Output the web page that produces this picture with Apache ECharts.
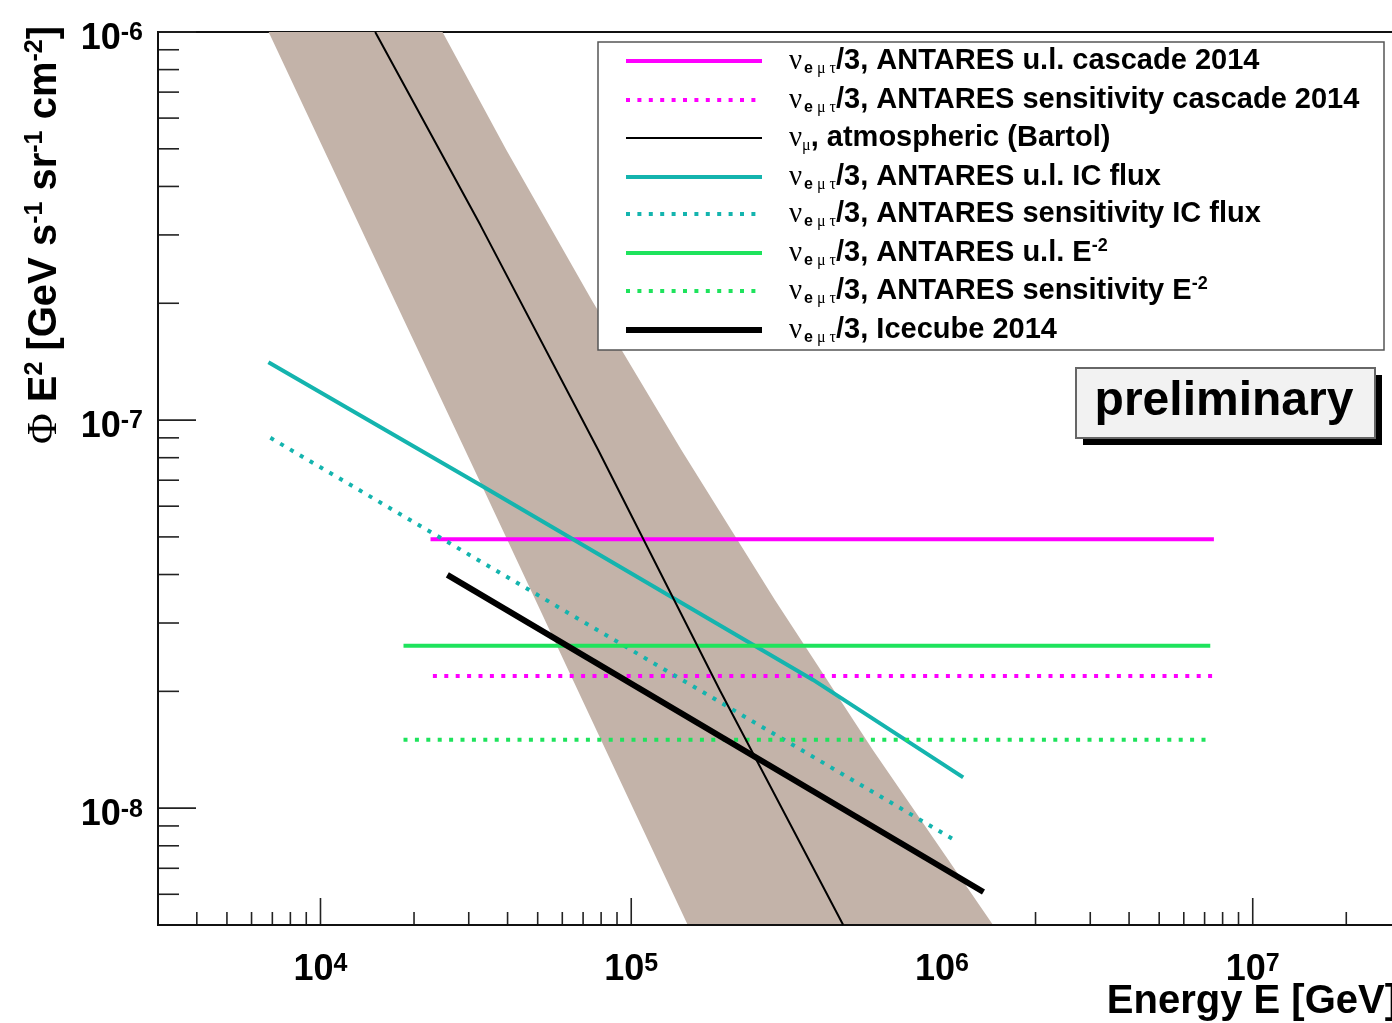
<!DOCTYPE html>
<html>
<head>
<meta charset="utf-8">
<script src="https://cdn.jsdelivr.net/npm/echarts@6/dist/echarts.min.js"></script>
<style>
html, body { margin: 0; background: #fff; }
#main { width: 1392px; height: 1023px; }
</style>
</head>
<body>
<div id="main"></div>
<script>
// 坐标轴范围
let xMin = 3000, xMax = 3e7;
let yMin = 5e-9, yMax = 1e-6;

// ANTARES cascade 2014
let casUlE = [2.26e4, 7.5e6];
let casUlF = [4.93e-8, 4.93e-8];
let casSensE = [2.3e4, 7.6e6];
let casSensF = [2.19e-8, 2.19e-8];
// 大气中微子 (Bartol)
let atmE = [1.5e4, 3.27e4, 7.83e4, 1.93e5, 4.81e5];
let atmF = [1.0e-6, 3.18e-7, 8.37e-8, 2.01e-8, 5.0e-9];
// 大气中微子不确定带 (上沿 / 下沿)
let bandUpE = [6.81e3, 1.73e4, 3.44e4, 1.52e5];
let bandUpF = [1.0e-6, 2.04e-7, 6.34e-8, 5.0e-9];
let bandLoE = [2.47e4, 3.96e4, 7.46e4, 1.45e5, 2.9e5, 6.0e5, 1.46e6];
let bandLoF = [1.0e-6, 4.97e-7, 2.04e-7, 8.37e-8, 3.44e-8, 1.41e-8, 5.0e-9];
// IC flux
let icUlE = [6.8e3, 3.27e4, 3.85e5, 1.17e6];
let icUlF = [1.41e-7, 6.8e-8, 2.14e-8, 1.2e-8];
let icSensE = [6.9e3, 1.12e6];
let icSensF = [9.0e-8, 8.2e-9];
// E^-2
let e2UlE = [1.85e4, 7.3e6];
let e2UlF = [2.62e-8, 2.62e-8];
let e2SensE = [1.85e4, 7.3e6];
let e2SensF = [1.5e-8, 1.5e-8];
// IceCube 2014
let iceE = [2.56e4, 1.36e6];
let iceF = [3.99e-8, 6.08e-9];

// 刻度
let xMajor = [1e4, 1e5, 1e6, 1e7];
let yMajor = [1e-8, 1e-7, 1e-6];
let xMinor = [];
for (let d = 1e3; d <= 1e7; d *= 10) {
    for (let k = 2; k <= 9; k++) {
        let v = k * d;
        if (v > xMin && v < xMax) xMinor.push(v);
    }
}
let yMinor = [];
for (let d = 1e-9; d <= 1e-7; d *= 10) {
    for (let k = 2; k <= 9; k++) {
        let v = k * d;
        if (v > yMin * 1.0001 && v < yMax) yMinor.push(v);
    }
}

// 图例文字
let legendLabels = [
    '{nu|ν}{se|e}{sg| μ τ}{t|/3, ANTARES u.l. cascade 2014}',
    '{nu|ν}{se|e}{sg| μ τ}{t|/3, ANTARES sensitivity cascade 2014}',
    '{nu|ν}{sg|μ}{t|, atmospheric (Bartol)}',
    '{nu|ν}{se|e}{sg| μ τ}{t|/3, ANTARES u.l. IC flux}',
    '{nu|ν}{se|e}{sg| μ τ}{t|/3, ANTARES sensitivity IC flux}',
    '{nu|ν}{se|e}{sg| μ τ}{t|/3, ANTARES u.l. E}{sp|-2}',
    '{nu|ν}{se|e}{sg| μ τ}{t|/3, ANTARES sensitivity E}{sp|-2}',
    '{nu|ν}{se|e}{sg| μ τ}{t|/3, Icecube 2014}'
];

let magenta = '#ff00ff', cyan = '#14b4ae', green = '#1ee35c', bandColor = '#c3b3a9';
let dots = [4, 7.4];

function pairs(xs, ys) {
    return xs.map(function (x, i) { return [x, ys[i]]; });
}

function expLabel(v) {
    let l = Math.log10(v);
    let e = Math.round(l);
    if (Math.abs(l - e) > 1e-6) return '';
    return '{b|10}{s|' + e + '}';
}

function tickSeries(vals, onX, len) {
    return {
        type: 'custom',
        z: 1,
        silent: true,
        clip: false,
        data: vals.map(function (v) { return onX ? [v, yMin] : [xMin, v]; }),
        renderItem: function (params, api) {
            let p = api.coord([api.value(0), api.value(1)]);
            let q = onX ? [p[0], p[1] - len] : [p[0] + len, p[1]];
            return {
                type: 'line',
                shape: { x1: p[0], y1: p[1], x2: q[0], y2: q[1] },
                style: { stroke: '#222', lineWidth: 1.6 }
            };
        }
    };
}

function lineSeries(name, xs, ys, color, width, type, z) {
    return {
        name: name,
        type: 'line',
        data: pairs(xs, ys),
        showSymbol: false,
        symbol: 'none',
        z: z,
        lineStyle: { color: color, width: width, type: type, cap: 'butt' }
    };
}

let axisRich = {
    b: { fontFamily: 'Liberation Sans', fontWeight: 'bold', fontSize: 36, color: '#000', lineHeight: 36, verticalAlign: 'bottom' },
    s: { fontFamily: 'Liberation Sans', fontWeight: 'bold', fontSize: 25, color: '#000', lineHeight: 25, verticalAlign: 'top', padding: [0, 0, 20, 0] }
};

let legRich = {
    nu: { fontFamily: 'Liberation Serif', fontSize: 29 },
    se: { fontFamily: 'Liberation Sans', fontWeight: 'bold', fontSize: 16, padding: [16, 0, 0, 2] },
    sg: { fontFamily: 'Liberation Serif', fontSize: 16, padding: [16, 0, 0, 0] },
    t: { fontFamily: 'Liberation Sans', fontWeight: 'bold', fontSize: 29 },
    sp: { fontFamily: 'Liberation Sans', fontWeight: 'bold', fontSize: 18, padding: [0, 0, 14, 0] }
};

// 图例样式 (颜色, 线宽, 虚线)
let legendStyles = [
    [magenta, 4, null], [magenta, 4, dots], ['#000', 2, null],
    [cyan, 4, null], [cyan, 4, dots], [green, 4, null], [green, 4, dots], ['#000', 6, null]
];
let legendRowY = [61, 100, 138, 177, 214, 253, 291, 330];

let legendGraphics = [{
    type: 'rect', z: 100,
    shape: { x: 598, y: 42, width: 786, height: 308 },
    style: { fill: '#fff', stroke: '#555', lineWidth: 1.5 }
}];
legendLabels.forEach(function (lab, i) {
    let st = legendStyles[i];
    legendGraphics.push({
        type: 'line', z: 101,
        shape: { x1: 626, y1: legendRowY[i], x2: 762, y2: legendRowY[i] },
        style: { stroke: st[0], lineWidth: st[1], lineDash: st[2] }
    });
    legendGraphics.push({
        type: 'text', z: 101, x: 789, y: legendRowY[i],
        style: { text: lab, rich: legRich, fill: '#000', verticalAlign: 'middle', align: 'left' }
    });
});

let myChart = echarts.init(document.getElementById('main'));
let option = {
    animation: false,
    backgroundColor: '#fff',
    grid: {
        left: 158, top: 32, width: 1243, height: 893,
        outerBoundsMode: 'none', containLabel: false,
        show: true, borderColor: '#111', borderWidth: 2
    },
    xAxis: {
        type: 'log', min: xMin, max: xMax, z: 5,
        axisLine: { show: true, lineStyle: { color: '#111', width: 2 } },
        axisTick: { show: false },
        splitLine: { show: false },
        axisLabel: { margin: 27, formatter: expLabel, rich: axisRich, showMinLabel: true, showMaxLabel: true, hideOverlap: false }
    },
    yAxis: {
        type: 'log', min: yMin, max: yMax, z: 5,
        axisLine: { show: true, lineStyle: { color: '#111', width: 2 } },
        axisTick: { show: false },
        splitLine: { show: false },
        axisLabel: { margin: 15, padding: [14, 0, 0, 0], formatter: expLabel, rich: axisRich, hideOverlap: false }
    },
    series: [
        tickSeries(xMajor, true, 27),
        tickSeries(xMinor, true, 13),
        tickSeries(yMajor, false, 38),
        tickSeries(yMinor, false, 21),
        {
            type: 'custom',
            z: 2,
            silent: true,
            clip: true,
            data: pairs(bandUpE, bandUpF).concat(pairs(bandLoE, bandLoF)),
            renderItem: function (params, api) {
                if (params.dataIndex !== 0) return null;
                let pts = pairs(bandUpE, bandUpF).map(function (d) { return api.coord(d); })
                    .concat(pairs(bandLoE, bandLoF).reverse().map(function (d) { return api.coord(d); }));
                return { type: 'polygon', shape: { points: pts }, style: { fill: bandColor } };
            }
        },
        lineSeries('ANTARES u.l. cascade 2014', casUlE, casUlF, magenta, 4, 'solid', 3),
        lineSeries('ANTARES sensitivity cascade 2014', casSensE, casSensF, magenta, 4, dots, 3),
        lineSeries('ANTARES u.l. IC flux', icUlE, icUlF, cyan, 4, 'solid', 4),
        lineSeries('ANTARES sensitivity IC flux', icSensE, icSensF, cyan, 4, dots, 4),
        lineSeries('ANTARES u.l. E-2', e2UlE, e2UlF, green, 4, 'solid', 5),
        lineSeries('ANTARES sensitivity E-2', e2SensE, e2SensF, green, 4, dots, 5),
        lineSeries('atmospheric (Bartol)', atmE, atmF, '#000', 2, 'solid', 6),
        lineSeries('Icecube 2014', iceE, iceF, '#000', 6, 'solid', 7)
    ],
    graphic: legendGraphics.concat([
        {
            type: 'rect', z: 100,
            shape: { x: 1083, y: 375, width: 299, height: 70 },
            style: { fill: '#000' }
        },
        {
            type: 'rect', z: 101,
            shape: { x: 1076, y: 368, width: 299, height: 70 },
            style: { fill: '#f2f2f2', stroke: '#666', lineWidth: 2 }
        },
        {
            type: 'text', z: 102, x: 1224, y: 402,
            style: { text: 'preliminary', fill: '#000', font: 'bold 48px "Liberation Sans"', align: 'center', verticalAlign: 'middle' }
        },
        {
            type: 'text', z: 102, x: 1398, y: 1002,
            style: { text: 'Energy E [GeV]', fill: '#000', font: 'bold 40px "Liberation Sans"', align: 'right', verticalAlign: 'middle' }
        },
        {
            type: 'text', z: 102, x: 45, y: 26, rotation: Math.PI / 2,
            style: {
                text: '{phi|Φ}{t| E}{sp|2}{t| [GeV s}{sp|-1}{t| sr}{sp|-1}{t| cm}{sp|-2}{t|]}',
                fill: '#000', align: 'right', verticalAlign: 'middle',
                rich: {
                    phi: { fontFamily: 'Liberation Serif', fontSize: 42 },
                    t: { fontFamily: 'Liberation Sans', fontWeight: 'bold', fontSize: 40 },
                    sp: { fontFamily: 'Liberation Sans', fontWeight: 'bold', fontSize: 25, padding: [0, 0, 20, 0] }
                }
            }
        }
    ])
};
myChart.setOption(option);
</script>
</body>
</html>
